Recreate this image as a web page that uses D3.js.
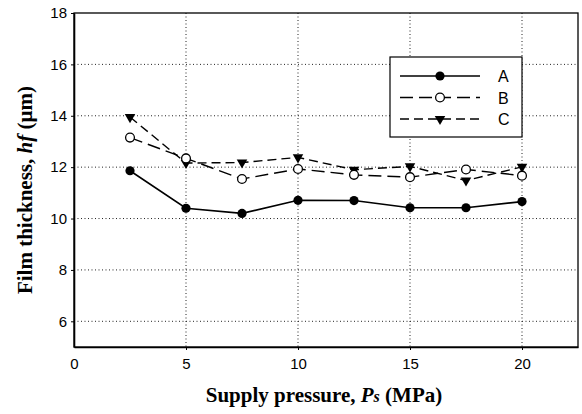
<!DOCTYPE html>
<html>
<head>
<meta charset="utf-8">
<script src="https://cdn.jsdelivr.net/npm/d3@7"></script>
<style>
  html, body { margin: 0; padding: 0; background: #fff; }
  svg { display: block; }
</style>
</head>
<body>
<svg id="chart" width="582" height="414"></svg>
<script>
// Supply pressure (MPa) at which film thickness was measured
const pressure = [2.5, 5, 7.5, 10, 12.5, 15, 17.5, 20];
// Film thickness hf (µm) for each case
const seriesA = [11.86, 10.4, 10.2, 10.71, 10.7, 10.42, 10.42, 10.66];
const seriesB = [13.15, 12.34, 11.54, 11.93, 11.7, 11.61, 11.91, 11.67];
const seriesC = [13.95, 12.16, 12.18, 12.38, 11.9, 12.03, 11.48, 12.01];
const seriesNames = ["A", "B", "C"];
const xTicks = [0, 5, 10, 15, 20];
const yTicks = [6, 8, 10, 12, 14, 16, 18];

const svg = d3.select("#chart");
const plotLeft = 74, plotRight = 578, plotTop = 13, plotBottom = 347;

const x = d3.scaleLinear().domain([0, 22.5]).range([plotLeft, plotRight]);
const y = d3.scaleLinear().domain([5, 18]).range([plotBottom, plotTop]);

// dotted grid
const grid = svg.append("g").attr("stroke", "#222").attr("stroke-width", 1)
  .attr("stroke-dasharray", "1,2.5");
grid.selectAll("line.gx").data(xTicks.filter(d => d > 0)).join("line")
  .attr("class", "gx")
  .attr("x1", d => x(d)).attr("x2", d => x(d))
  .attr("y1", plotTop).attr("y2", plotBottom);
grid.selectAll("line.gy").data(yTicks.filter(d => d < 18)).join("line")
  .attr("class", "gy")
  .attr("y1", d => y(d)).attr("y2", d => y(d))
  .attr("x1", plotLeft).attr("x2", plotRight);

// frame
svg.append("rect").attr("x", plotLeft).attr("y", plotTop)
  .attr("width", plotRight - plotLeft).attr("height", plotBottom - plotTop)
  .attr("fill", "none").attr("stroke", "#000").attr("stroke-width", 1.3);

// axes
const xAxis = d3.axisBottom(x).tickValues(xTicks).tickSize(3).tickSizeOuter(0).tickPadding(8);
const gx = svg.append("g").attr("transform", `translate(0,${plotBottom})`).call(xAxis);
gx.select(".domain").attr("stroke-width", 1.6);
gx.selectAll(".tick line").filter(d => d === 0).remove();

const yAxis = d3.axisLeft(y).tickValues(yTicks).tickSize(3).tickSizeOuter(0).tickPadding(4);
const gy = svg.append("g").attr("transform", `translate(${plotLeft},0)`).call(yAxis);
gy.select(".domain").attr("stroke-width", 1.6);

svg.selectAll(".tick text")
  .attr("font-family", "Liberation Sans, Arial, sans-serif")
  .attr("font-size", 15).attr("fill", "#000");

// series
const series = [
  { name: seriesNames[0], values: seriesA, dash: null, marker: "dot" },
  { name: seriesNames[1], values: seriesB, dash: "13,6", marker: "open" },
  { name: seriesNames[2], values: seriesC, dash: "9,5", marker: "tri" }
];

const line = d3.line().x((d, i) => x(pressure[i])).y(d => y(d));

function drawMarker(g, type, cx, cy) {
  if (type === "dot") {
    g.append("circle").attr("cx", cx).attr("cy", cy).attr("r", 4.6).attr("fill", "#000");
  } else if (type === "open") {
    g.append("circle").attr("cx", cx).attr("cy", cy).attr("r", 4.4)
      .attr("fill", "#fff").attr("stroke", "#000").attr("stroke-width", 1.3);
  } else {
    g.append("path").attr("d", d3.symbol(d3.symbolTriangle, 48)())
      .attr("transform", `translate(${cx},${cy}) rotate(180)`).attr("fill", "#000");
  }
}

series.forEach(s => {
  svg.append("path").datum(s.values).attr("d", line)
    .attr("fill", "none").attr("stroke", "#000")
    .attr("stroke-width", s.dash ? 1.4 : 1.6)
    .attr("stroke-dasharray", s.dash);
});
series.slice().reverse().forEach(s => {
  const g = svg.append("g");
  s.values.forEach((v, i) => drawMarker(g, s.marker, x(pressure[i]), y(v)));
});

// legend
const lg = svg.append("g");
lg.append("rect").attr("x", 390).attr("y", 57).attr("width", 132).attr("height", 80)
  .attr("fill", "#fff").attr("stroke", "#000").attr("stroke-width", 1.2);
series.forEach((s, i) => {
  const ly = 76 + i * 21.5;
  lg.append("line").attr("x1", 400).attr("x2", 480).attr("y1", ly).attr("y2", ly)
    .attr("stroke", "#000").attr("stroke-width", s.dash ? 1.4 : 1.6)
    .attr("stroke-dasharray", s.dash);
  drawMarker(lg, s.marker, 440, ly);
  lg.append("text").attr("x", 498).attr("y", ly + 6)
    .attr("font-family", "Liberation Sans, Arial, sans-serif").attr("font-size", 16)
    .text(s.name);
});

// axis titles
const xt = svg.append("text").attr("x", (plotLeft + plotRight) / 2 - 2).attr("y", 402)
  .attr("text-anchor", "middle").attr("font-family", "Liberation Serif, Times New Roman, serif")
  .attr("font-weight", "bold").attr("font-size", 21);
xt.append("tspan").text("Supply pressure, ");
xt.append("tspan").attr("font-style", "italic").text("P");
xt.append("tspan").attr("font-style", "italic").attr("font-size", 16).text("s");
xt.append("tspan").text(" (MPa)");

const yt = svg.append("text")
  .attr("transform", `translate(32,${(plotTop + plotBottom) / 2 + 10}) rotate(-90)`)
  .attr("text-anchor", "middle").attr("font-family", "Liberation Serif, Times New Roman, serif")
  .attr("font-weight", "bold").attr("font-size", 21);
yt.append("tspan").text("Film thickness, ");
yt.append("tspan").attr("font-style", "italic").text("hf");
yt.append("tspan").text(" (\u00b5m)");
</script>
</body>
</html>
